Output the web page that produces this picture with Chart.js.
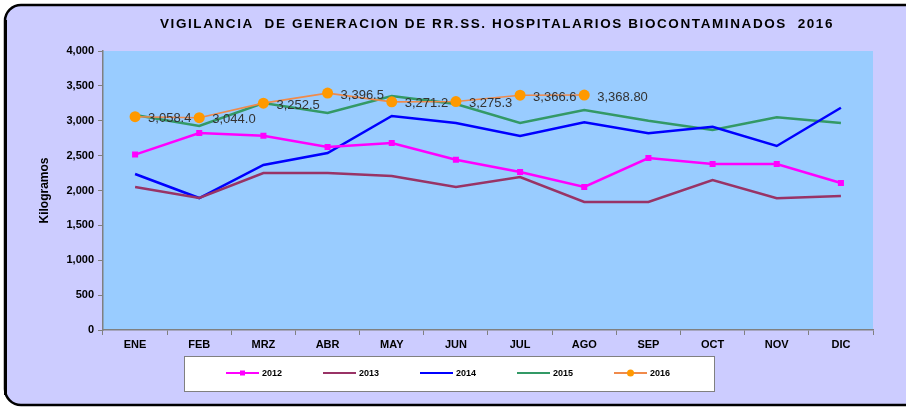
<!DOCTYPE html>
<html>
<head>
<meta charset="utf-8">
<script src="https://cdn.jsdelivr.net/npm/chart.js@4"></script>
<style>
  body { margin: 0; background: #fff; }
  canvas { display: block; }
</style>
</head>
<body>
<canvas id="grafico" width="906" height="410"></canvas>
<script>
// datos
let meses = ['ENE', 'FEB', 'MRZ', 'ABR', 'MAY', 'JUN', 'JUL', 'AGO', 'SEP', 'OCT', 'NOV', 'DIC']
let anios = ['2012', '2013', '2014', '2015', '2016']
let d2012 = [2515, 2824, 2785, 2624, 2681, 2440, 2265, 2050, 2466, 2380, 2380, 2107]
let d2013 = [2050, 1892, 2251, 2251, 2208, 2050, 2194, 1835, 1835, 2151, 1888, 1921]
let d2014 = [2237, 1892, 2366, 2538, 3068, 2968, 2781, 2978, 2820, 2915, 2638, 3187]
let d2015 = [3082, 2925, 3254, 3111, 3355, 3240, 2968, 3154, 3000, 2867, 3049, 2968]
let d2016 = [3058.4, 3044.0, 3252.5, 3396.5, 3271.2, 3275.3, 3366.6, 3368.80]
let etiquetas2016 = ['3,058.4', '3,044.0', '3,252.5', '3,396.5', '3,271.2', '3,275.3', '3,366.6', '3,368.80']
let titulo = 'VIGILANCIA  DE GENERACION DE RR.SS. HOSPITALARIOS BIOCONTAMINADOS  2016'

let colores = ['#ff00ff', '#993366', '#0000ff', '#339966', '#ff9933']

let fondo = {
  id: 'fondo',
  beforeDraw: function (chart) {
    let ctx = chart.ctx
    let a = chart.chartArea
    ctx.save()
    ctx.fillStyle = '#ffffff'
    ctx.fillRect(0, 0, chart.width, chart.height)
    // marco redondeado
    ctx.beginPath()
    ctx.roundRect(5, 5, 940, 400, 16)
    ctx.fillStyle = '#ccccff'
    ctx.fill()
    ctx.lineWidth = 2.5
    ctx.strokeStyle = '#000'
    ctx.stroke()
    ctx.fillStyle = '#000'
    ctx.fillRect(4, 20, 3, 375)
    // area de trazado
    ctx.fillStyle = '#99ccff'
    ctx.fillRect(a.left, a.top, a.right - a.left, a.bottom - a.top)
    // titulo
    ctx.font = 'bold 13.5px "Liberation Sans", Arial'
    ctx.letterSpacing = '1.6px'
    ctx.textAlign = 'center'
    ctx.textBaseline = 'middle'
    ctx.fillStyle = '#000'
    ctx.fillText(titulo, 497, 24)
    ctx.restore()
  },
  afterDraw: function (chart) {
    let ctx = chart.ctx
    ctx.save()
    // etiquetas de 2016
    let meta = chart.getDatasetMeta(4)
    ctx.font = '13px "Liberation Sans", Arial'
    ctx.fillStyle = '#333333'
    ctx.textAlign = 'left'
    ctx.textBaseline = 'middle'
    meta.data.forEach(function (p, i) {
      ctx.fillText(etiquetas2016[i], p.x + 13, p.y + 2)
    })
    // leyenda
    ctx.fillStyle = '#ffffff'
    ctx.fillRect(184, 356, 530, 35)
    ctx.strokeStyle = '#808080'
    ctx.lineWidth = 1
    ctx.strokeRect(184.5, 356.5, 530, 35)
    ctx.font = 'bold 9px "Liberation Sans", Arial'
    ctx.fillStyle = '#000'
    chart.data.datasets.forEach(function (ds, i) {
      let x = 226 + i * 97
      let y = 373
      ctx.strokeStyle = ds.borderColor
      ctx.lineWidth = 2
      ctx.beginPath()
      ctx.moveTo(x, y)
      ctx.lineTo(x + 33, y)
      ctx.stroke()
      if (i == 0) {
        ctx.fillStyle = ds.borderColor
        ctx.fillRect(x + 14, y - 2.5, 5, 5)
      }
      if (i == 4) {
        ctx.fillStyle = '#ff9900'
        ctx.beginPath()
        ctx.arc(x + 16.5, y, 3.5, 0, Math.PI * 2)
        ctx.fill()
      }
      ctx.fillStyle = '#000'
      ctx.fillText(ds.label, x + 36, y + 1)
    })
    ctx.restore()
  }
}

let series = [d2012, d2013, d2014, d2015, d2016]

let datasets = series.map(function (s, i) {
  return {
    label: anios[i],
    data: s,
    borderColor: colores[i],
    backgroundColor: colores[i],
    borderWidth: 2.5,
    pointRadius: 0,
    tension: 0
  }
})
datasets[0].pointStyle = 'rect'
datasets[0].pointRadius = 2.5
datasets[4].borderWidth = 1.6
datasets[4].borderColor = '#f08a4b'
datasets[4].backgroundColor = '#ff9900'
datasets[4].pointBackgroundColor = '#ff9900'
datasets[4].pointBorderColor = '#ff9900'
datasets[4].pointBorderWidth = 0
datasets[4].pointRadius = 5.5
datasets[4].order = -1

let miGrafico = new Chart('grafico', {
  type: 'line',
  data: { labels: meses, datasets: datasets },
  plugins: [fondo],
  options: {
    responsive: false,
    animation: false,
    events: [],
    layout: { padding: { left: 37, top: 51, right: 33, bottom: 50 } },
    plugins: {
      legend: { display: false },
      tooltip: { enabled: false }
    },
    scales: {
      x: {
        offset: true,
        grid: { offset: true, drawOnChartArea: false, drawTicks: true, tickLength: 5, color: '#808080' },
        border: { color: '#808080', width: 1.5 },
        ticks: { color: '#000', font: { family: '"Liberation Sans", Arial', weight: 'bold', size: 11 }, padding: 3 },
        afterFit: function (s) { s.height = 30 }
      },
      y: {
        min: 0,
        max: 4000,
        grid: { drawOnChartArea: false, drawTicks: true, tickLength: 5, color: '#808080' },
        border: { color: '#808080', width: 1.5 },
        ticks: {
          stepSize: 500,
          color: '#000',
          padding: 4,
          font: { family: '"Liberation Sans", Arial', weight: 'bold', size: 11 },
          callback: function (v) { return v.toLocaleString('en-US') }
        },
        title: {
          display: true,
          text: 'Kilogramos',
          color: '#000',
          padding: 0,
          font: { family: '"Liberation Sans", Arial', weight: 'bold', size: 12 }
        },
        afterFit: function (s) { s.width = 66 }
      }
    }
  }
})
</script>
</body>
</html>
